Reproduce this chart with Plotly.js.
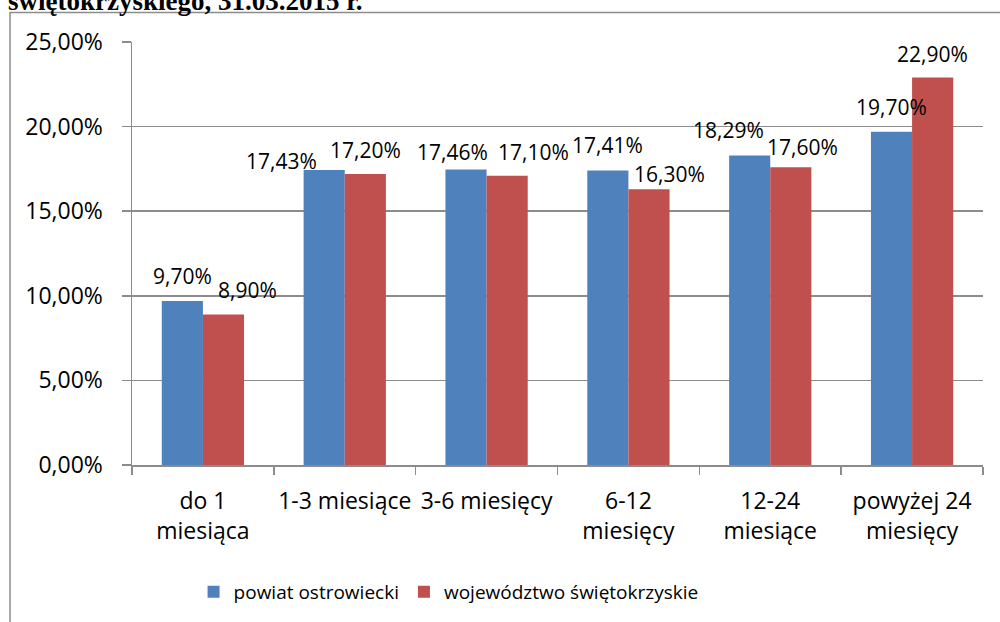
<!DOCTYPE html>
<html><head><meta charset="utf-8">
<script src="https://cdn.plot.ly/plotly-3.0.1.min.js"></script>
<style>html,body{margin:0;padding:0;background:#fff}#chart{width:1000px;height:622px}</style>
</head><body><div id="chart"></div>
<script>
const categories = ['do 1<br>miesiąca','1-3 miesiące','3-6 miesięcy','6-12<br>miesięcy','12-24<br>miesiące','powyżej 24<br>miesięcy'];
const powiat = [9.70, 17.43, 17.46, 17.41, 18.29, 19.70];
const wojewodztwo = [8.90, 17.20, 17.10, 16.30, 17.60, 22.90];
const seriesNames = ['powiat ostrowiecki', 'województwo świętokrzyskie'];
const yTickVals = [0, 5, 10, 15, 20, 25];
const yTickText = ['0,00%', '5,00%', '10,00%', '15,00%', '20,00%', '25,00%'];
const titleText = 'świętokrzyskiego, 31.03.2015 r.';
// manual label nudges in px [dx, dy above bar top]
const nudgeBlue = [[0,25],[-43,9.5],[-13.5,18],[0,25],[-21.5,26],[0,25]];
const nudgeRed  = [[24,24.5],[0,24],[26,23.7],[21,15.5],[11.5,20],[0,24]];

const BLUE = '#4F81BD', RED = '#C0504D', GRID = '#8c8c8c';
const bargap = 0.42;
const off = (1 - bargap) / 4;
const fmt = v => v.toFixed(2).replace('.', ',') + '%';

const traces = [
  {type:'bar', name:seriesNames[0], x:categories, y:powiat, marker:{color:BLUE}, hoverinfo:'none'},
  {type:'bar', name:seriesNames[1], x:categories, y:wojewodztwo, marker:{color:RED}, hoverinfo:'none'}
];

const annotations = [];
function addLabels(vals, sign, nudges){
  vals.forEach((v,i)=>{
    annotations.push({x:i + sign*off, y:v, xref:'x', yref:'y', text:fmt(v), showarrow:false,
      xanchor:'center', yanchor:'middle', xshift:nudges[i][0], yshift:nudges[i][1],
      font:{size:21, color:'#000'}});
  });
}
addLabels(powiat, -1, nudgeBlue);
addLabels(wojewodztwo, 1, nudgeRed);

const px2x = px => (px - 132) / 851;
const px2y = py => (466 - py) / 424;

const layout = {
  width:1000, height:622,
  margin:{l:132, r:17, t:42, b:156},
  paper_bgcolor:'#fff', plot_bgcolor:'rgba(0,0,0,0)',
  barmode:'group', bargap:bargap, bargroupgap:0,
  font:{family:'Open Sans', color:'#000'},
  title:{text:'<b>'+titleText+'</b>', font:{family:'Liberation Serif', size:27, color:'#000'},
    x:0.008, xanchor:'left', xref:'container', yref:'container', y:1-10/622, yanchor:'bottom'},
  xaxis:{type:'category', tickson:'boundaries', ticks:'outside', ticklen:8, tickcolor:GRID, tickwidth:1.5,
    showline:true, linecolor:GRID, linewidth:1.5, showgrid:false, tickangle:0, automargin:false,
    tickfont:{size:23, color:'#000'}, ticklabelstandoff:15},
  yaxis:{range:[0,25], tickvals:yTickVals, ticktext:yTickText, ticks:'outside', ticklen:9, tickcolor:GRID, tickwidth:1.5,
    showline:true, linecolor:GRID, linewidth:1.5, showgrid:true, gridcolor:GRID, gridwidth:1.5, zeroline:false,
    tickfont:{size:23, color:'#000'}, ticklabelstandoff:14},
  showlegend:true,
  legend:{orientation:'h', x:0.372, xanchor:'center', y:px2y(592), yanchor:'middle', font:{size:19, color:'#000'},
    bgcolor:'rgba(0,0,0,0)'},
  annotations:annotations,
  shapes:[
    {type:'rect', xref:'paper', yref:'paper', x0:px2x(10), x1:px2x(1010), y0:px2y(640), y1:px2y(12.5),
      line:{color:GRID, width:1.5}, fillcolor:'rgba(0,0,0,0)', layer:'below'}
  ]
};

Plotly.newPlot('chart', traces, layout, {staticPlot:true, displayModeBar:false});
</script></body></html>
